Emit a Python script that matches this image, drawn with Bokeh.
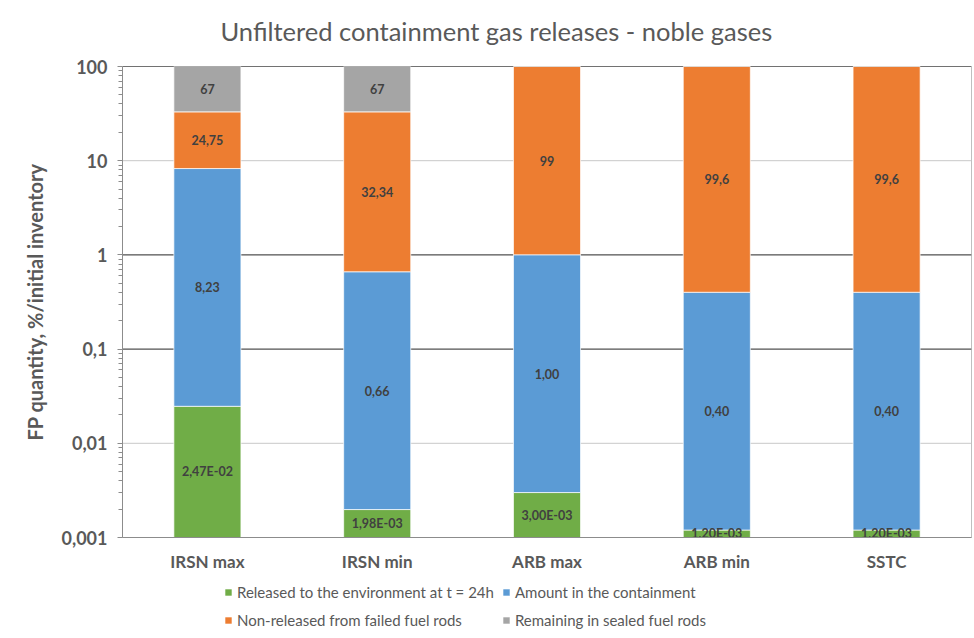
import numpy as np
from bokeh.plotting import figure
from bokeh.layouts import column
from bokeh.models import ColumnDataSource, FixedTicker, Legend, LegendItem, Span, Range1d, Label
from bokeh.core.properties import value
from bokeh.embed import file_html
from bokeh.resources import INLINE

# ---- data ----
title_text = "Unfiltered containment gas releases - noble gases"
categories = ["IRSN max", "IRSN min", "ARB max", "ARB min", "SSTC"]
released = [2.47e-2, 1.98e-3, 3.00e-3, 1.20e-3, 1.20e-3]
containment = [8.23, 0.66, 1.00, 0.40, 0.40]
non_released = [24.75, 32.34, 99.0, 99.6, 99.6]
remaining = [67.0, 67.0, 0.0, 0.0, 0.0]
series_names = ["Released to the environment at t = 24h",
                "Amount in the containment",
                "Non-released from failed fuel rods",
                "Remaining in sealed fuel rods"]
y_ticks = [0.001, 0.01, 0.1, 1, 10, 100]
y_tick_labels = ["0,001", "0,01", "0,1", "1", "10", "100"]

colors = ["#70ad47", "#5b9bd5", "#ed7d31", "#a5a5a5"]
FONT = "Lato"
GRAY = "#595959"
W = 972

def fmt_e(v):
    return ("%.2E" % v).replace(".", ",")

def fmt_f(v):
    return ("%.2f" % v).replace(".", ",")

def fmt_g(v):
    return ("%g" % v).replace(".", ",")

series = [released, containment, non_released, remaining]
formatters = [fmt_e, fmt_f, fmt_g, fmt_g]

ymin, ymax = y_ticks[0], y_ticks[-1]

# ---- title strip ----
t = figure(width=W, height=52, output_backend="svg", toolbar_location=None,
           x_axis_location=None, y_axis_location=None,
           x_range=Range1d(0, 1), y_range=Range1d(0, 1), min_border=0)
t.outline_line_color = None
t.xgrid.grid_line_color = None
t.ygrid.grid_line_color = None
t.add_layout(Label(x=98, y=22, x_units="screen", y_units="screen", text=title_text,
                   text_font=FONT, text_font_size="25.5px", text_color=GRAY,
                   text_baseline="middle", text_align="left"))

# ---- main chart ----
p = figure(x_range=categories, y_axis_type="log", y_range=(ymin, ymax),
           width=W, height=530, output_backend="svg", toolbar_location=None,
           min_border_left=122, min_border_right=1, min_border_top=14,
           min_border_bottom=45)

p.outline_line_color = "#bfbfbf"
p.xgrid.grid_line_color = None
p.ygrid.grid_line_color = None

# gridlines
for tk in y_ticks[1:]:
    dark = tk in (1, 0.1, 100)
    p.add_layout(Span(location=tk, dimension="width",
                      line_color="#262626" if dark else "#c8c8c8",
                      line_width=1, level="underlay"))

cum = np.zeros(len(categories))
lab_x, lab_y, lab_t = [], [], []
for vals, col, fmt in zip(series, colors, formatters):
    vals = np.array(vals, dtype=float)
    bottom = np.where(cum == 0, ymin, cum)
    top = cum + vals
    src = ColumnDataSource(dict(x=categories, bottom=bottom, top=top))
    p.vbar(x="x", bottom="bottom", top="top", width=0.395, source=src,
           fill_color=col, line_color="white", line_alpha=0.7, line_width=1)
    for i, v in enumerate(vals):
        if v > 0:
            b = max(bottom[i], ymin)
            tp = min(top[i], ymax)
            lab_x.append(categories[i])
            lab_y.append(float(np.sqrt(b * tp)))
            lab_t.append(fmt(v))
    cum = top

lsrc = ColumnDataSource(dict(x=lab_x, y=lab_y, t=lab_t))
p.text(x="x", y="y", text="t", source=lsrc, text_align="center",
       text_baseline="middle", text_font=value(FONT), text_font_style="bold",
       text_font_size="12.5px", text_color="#404040")

# axes
p.yaxis.ticker = FixedTicker(ticks=y_ticks,
                             minor_ticks=[tk * m for tk in y_ticks[:-1] for m in range(2, 10)])
p.yaxis.major_label_overrides = {tk: l for tk, l in zip(y_ticks, y_tick_labels)}
p.yaxis.axis_label = "FP quantity, %/initial inventory"
p.yaxis.axis_label_text_font = FONT
p.yaxis.axis_label_text_font_size = "20px"
p.yaxis.axis_label_text_font_style = "bold"
p.yaxis.axis_label_text_color = GRAY
p.yaxis.axis_label_standoff = 12
p.yaxis.major_label_text_font = FONT
p.yaxis.major_label_text_font_size = "18px"
p.yaxis.major_label_text_font_style = "bold"
p.yaxis.major_label_text_color = GRAY
p.yaxis.major_label_standoff = 10
p.yaxis.axis_line_color = "#8c8c8c"
p.yaxis.major_tick_line_color = "#8c8c8c"
p.yaxis.minor_tick_line_color = "#8c8c8c"
p.yaxis.major_tick_in = 0
p.yaxis.major_tick_out = 5
p.yaxis.minor_tick_in = 0
p.yaxis.minor_tick_out = 4

p.xaxis.axis_line_color = "#8c8c8c"
p.xaxis.major_tick_line_color = None
p.xaxis.minor_tick_line_color = None
p.xaxis.major_label_text_font = FONT
p.xaxis.major_label_text_font_size = "17px"
p.xaxis.major_label_text_font_style = "bold"
p.xaxis.major_label_text_color = GRAY
p.xaxis.major_label_standoff = 7

# ---- legend strip ----
q = figure(width=W, height=48, output_backend="svg", toolbar_location=None,
           x_axis_location=None, y_axis_location=None,
           x_range=Range1d(0, 1), y_range=Range1d(0, 1), min_border=0)
q.outline_line_color = None
q.xgrid.grid_line_color = None
q.ygrid.grid_line_color = None
items = []
for name, col in zip(series_names, colors):
    r = q.vbar(x=[-5], bottom=[-5], top=[-4], width=0.1, fill_color=col, line_color=None)
    items.append(LegendItem(label=name, renderers=[r]))
legend = Legend(items=items, ncols=2, orientation="horizontal", location=(102, 0))
legend.label_text_font = FONT
legend.label_text_font_size = "15px"
legend.label_text_color = GRAY
legend.glyph_width = 8
legend.glyph_height = 8
legend.label_height = 20
legend.label_standoff = 5
legend.spacing = 8
legend.padding = 0
legend.margin = 0
legend.border_line_color = None
legend.background_fill_alpha = 0
q.add_layout(legend, "center")

layout = column(t, p, q, spacing=0)
open("out.html", "w").write(file_html(layout, INLINE))
